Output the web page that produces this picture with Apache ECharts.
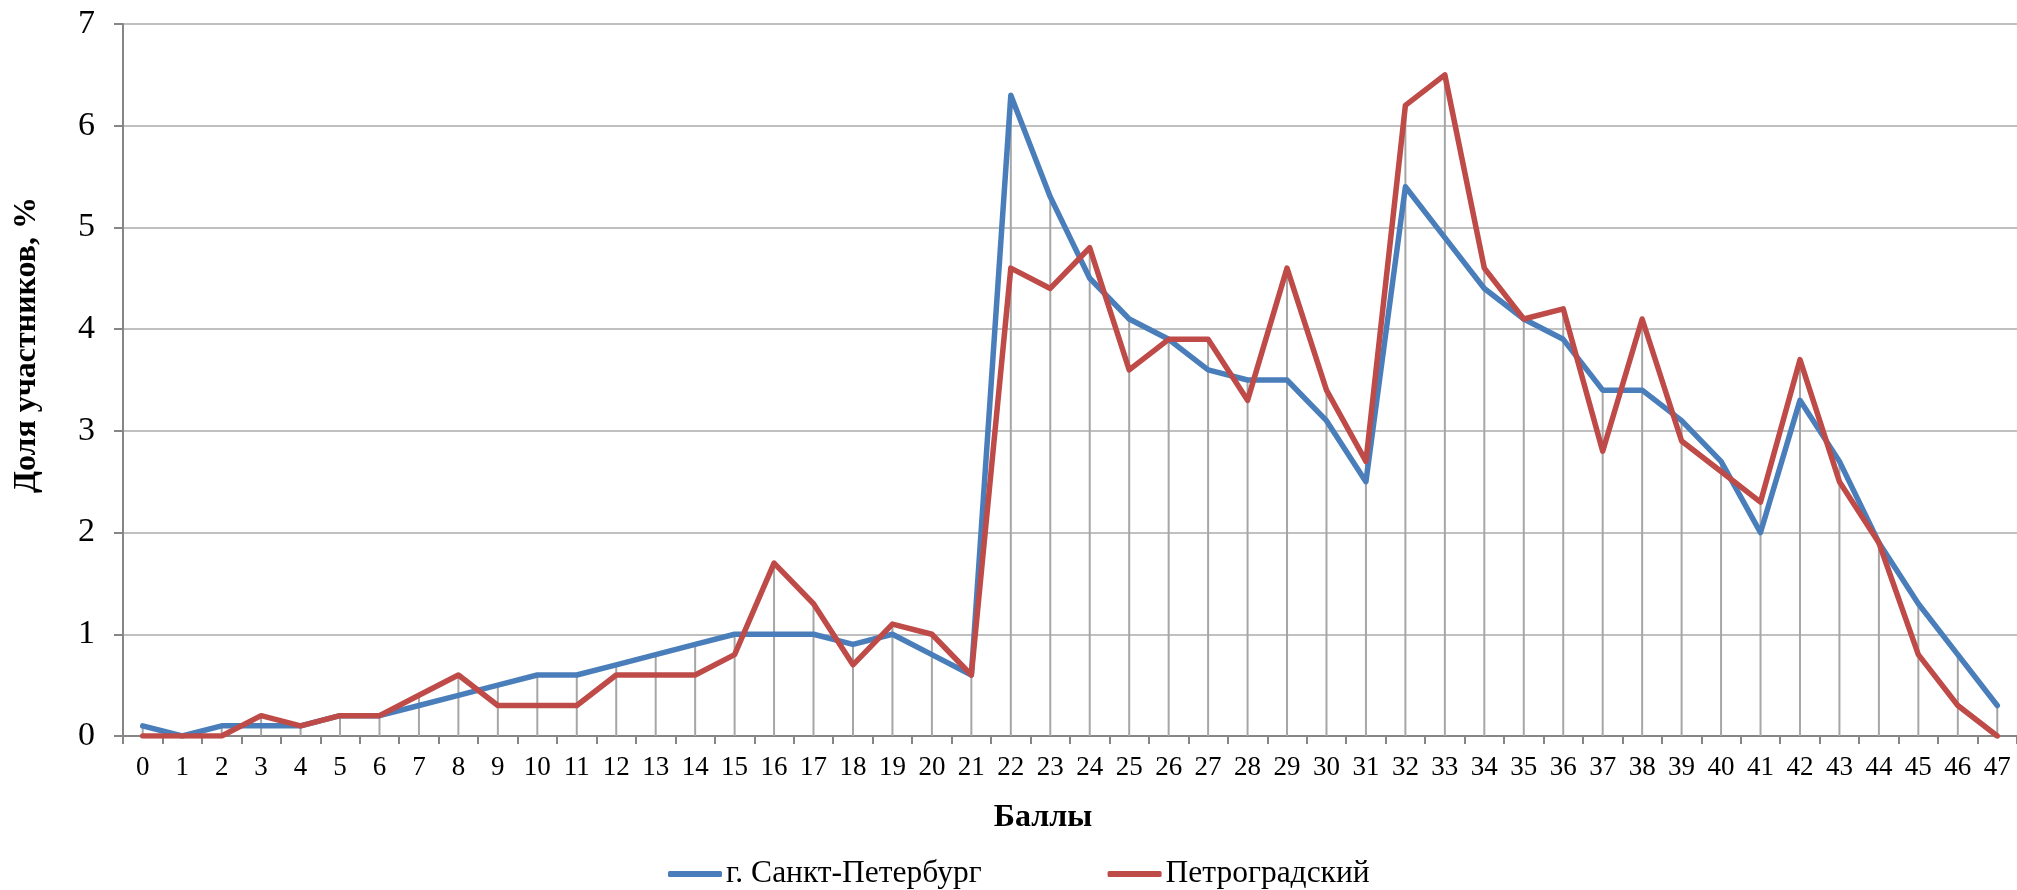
<!DOCTYPE html>
<html>
<head>
<meta charset="utf-8">
<script src="https://cdn.jsdelivr.net/npm/echarts@6/dist/echarts.min.js"></script>
<style>
html,body{margin:0;padding:0;background:#fff;}
#chart{width:2017px;height:890px;}
</style>
</head>
<body>
<div id="chart"></div>
<script>
const categories = ['0','1','2','3','4','5','6','7','8','9','10','11','12','13','14','15','16','17','18','19','20','21','22','23','24','25','26','27','28','29','30','31','32','33','34','35','36','37','38','39','40','41','42','43','44','45','46','47'];
const spbName = 'г. Санкт-Петербург';
const petroName = 'Петроградский';
const spbValues = [0.1,0,0.1,0.1,0.1,0.2,0.2,0.3,0.4,0.5,0.6,0.6,0.7,0.8,0.9,1.0,1.0,1.0,0.9,1.0,0.8,0.6,6.3,5.3,4.5,4.1,3.9,3.6,3.5,3.5,3.1,2.5,5.4,4.9,4.4,4.1,3.9,3.4,3.4,3.1,2.7,2.0,3.3,2.7,1.9,1.3,0.8,0.3];
const petroValues = [0,0,0,0.2,0.1,0.2,0.2,0.4,0.6,0.3,0.3,0.3,0.6,0.6,0.6,0.8,1.7,1.3,0.7,1.1,1.0,0.6,4.6,4.4,4.8,3.6,3.9,3.9,3.3,4.6,3.4,2.7,6.2,6.5,4.6,4.1,4.2,2.8,4.1,2.9,2.6,2.3,3.7,2.5,1.9,0.8,0.3,0];
const yTicks = {min: 0, max: 7, interval: 1};
const xTitle = 'Баллы';
const yTitle = 'Доля участников, %';

// drop lines reach the higher of the two points at each score
const dropLines = spbValues.map((v, i) => Math.max(v, petroValues[i]));

const FONT = '"Liberation Serif", "Times New Roman", serif';
const chart = echarts.init(document.getElementById('chart'), null, {renderer: 'canvas'});
chart.setOption({
  animation: false,
  backgroundColor: '#ffffff',
  textStyle: {fontFamily: FONT, color: '#000'},
  grid: {left: 123, right: 0, top: 24, bottom: 154, containLabel: false},
  legend: {
    data: [spbName, petroName],
    left: 668,
    top: 858,
    padding: 0,
    icon: 'roundRect',
    itemWidth: 54,
    itemHeight: 6,
    itemGap: 126,
    textStyle: {fontFamily: FONT, fontSize: 31.5, color: '#000', padding: [0,0,0,-1]}
  },
  xAxis: {
    type: 'category',
    data: categories,
    boundaryGap: true,
    name: xTitle,
    nameLocation: 'middle',
    nameGap: 66,
    nameTextStyle: {fontFamily: FONT, fontSize: 32, fontWeight: 'bold', color: '#000', padding: [0, 54, 0, 0]},
    axisLine: {lineStyle: {color: '#868686', width: 2}},
    axisTick: {show: true, length: 8, lineStyle: {color: '#868686', width: 2}},
    axisLabel: {fontFamily: FONT, fontSize: 27, color: '#000', margin: 18, interval: 0},
    splitLine: {show: false}
  },
  yAxis: {
    type: 'value',
    min: yTicks.min,
    max: yTicks.max,
    interval: yTicks.interval,
    name: yTitle,
    nameLocation: 'middle',
    nameRotate: 90,
    nameGap: 80,
    nameTextStyle: {fontFamily: FONT, fontSize: 32, fontWeight: 'bold', color: '#000', padding: [0, 0, 0, 70]},
    axisLine: {show: true, lineStyle: {color: '#868686', width: 2}},
    axisTick: {show: true, length: 9, lineStyle: {color: '#868686', width: 2}},
    axisLabel: {fontFamily: FONT, fontSize: 34, color: '#000', margin: 28},
    splitLine: {show: true, lineStyle: {color: '#c0c0c0', width: 2}}
  },
  series: [
    {
      name: 'drop',
      type: 'bar',
      data: dropLines,
      barWidth: 2,
      itemStyle: {color: '#a6a6a6'},
      silent: true,
      z: 1
    },
    {
      name: spbName,
      type: 'line',
      data: spbValues,
      symbol: 'none',
      lineStyle: {color: '#4a7ebb', width: 5.5, cap: 'round', join: 'round'},
      itemStyle: {color: '#4a7ebb'},
      z: 3
    },
    {
      name: petroName,
      type: 'line',
      data: petroValues,
      symbol: 'none',
      lineStyle: {color: '#be4b48', width: 5.5, cap: 'round', join: 'round'},
      itemStyle: {color: '#be4b48'},
      z: 4
    }
  ]
});
</script>
</body>
</html>
